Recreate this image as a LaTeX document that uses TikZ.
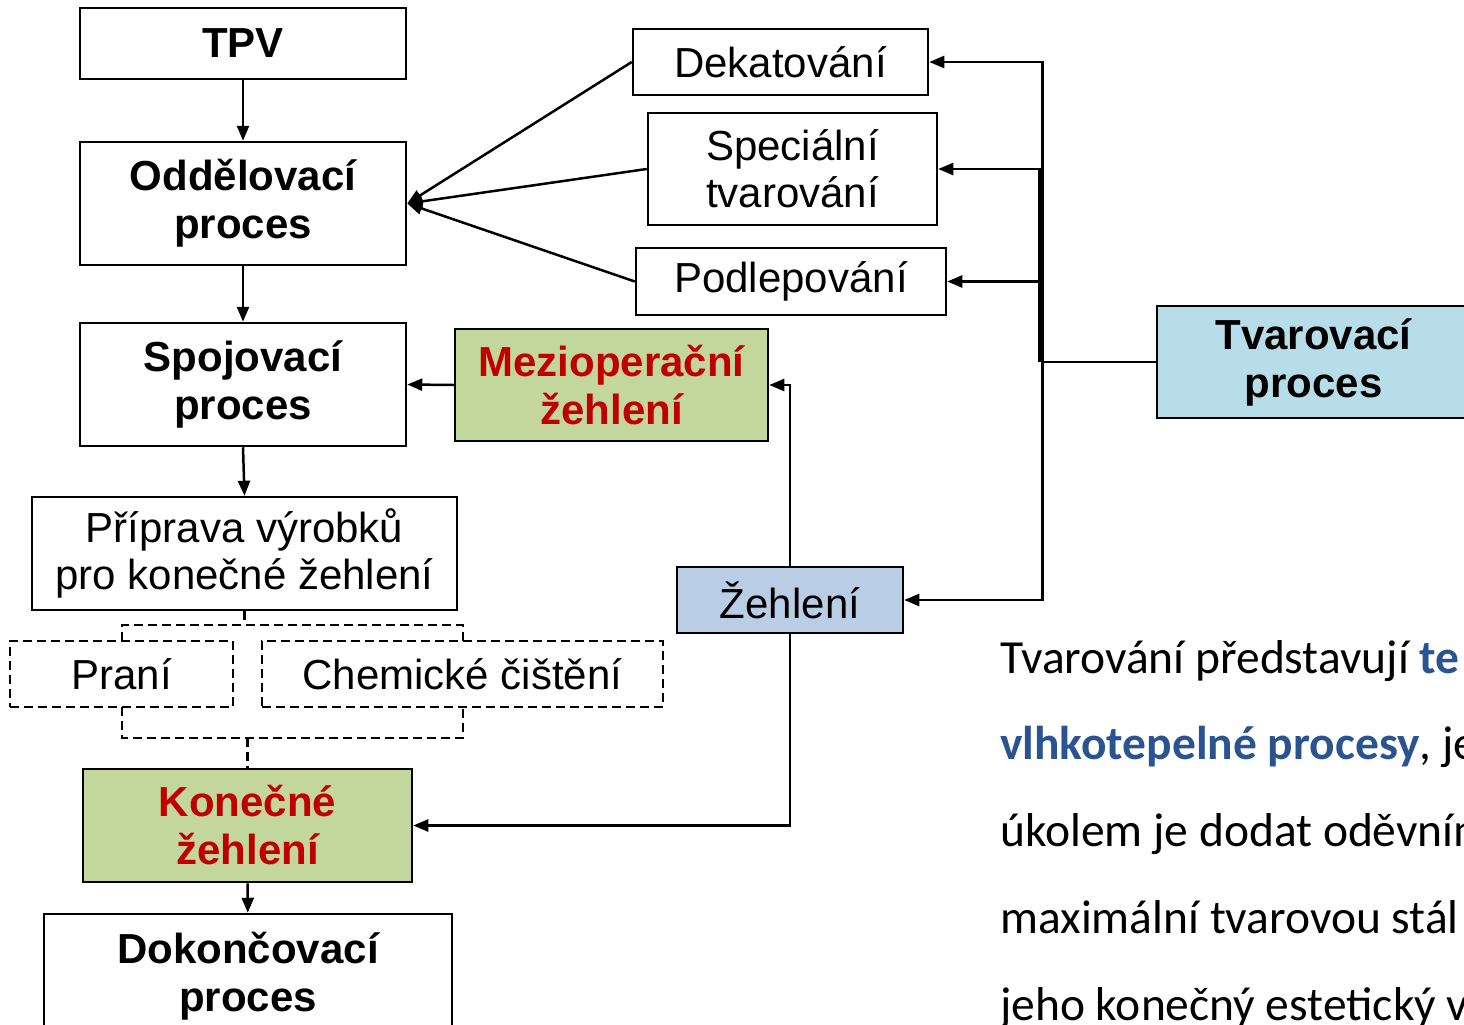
\documentclass[tikz,border=0pt]{standalone}
\usepackage{fontspec}
\setmainfont{Liberation Sans}
\newfontfamily\calibrifont{Carlito}
\usetikzlibrary{arrows.meta}
\definecolor{kgreen}{HTML}{C3D69B}
\definecolor{kred}{HTML}{C00000}
\definecolor{zblue}{HTML}{B9CDE5}
\definecolor{tblue}{HTML}{B7DEE8}
\definecolor{txtblue}{HTML}{2A5490}
\tikzset{
  box/.style={draw, line width=2.5pt, align=center, inner sep=0pt,
    font=\fontsize{42}{47}\selectfont},
  bbox/.style={box, font=\fontsize{42}{48}\selectfont\bfseries},
  dbox/.style={box, dash pattern=on 9pt off 5pt, line width=2.3pt},
  dsh/.style={line width=2.3pt, dash pattern=on 9pt off 5pt},
  arr/.style={line width=2.5pt, -{Triangle[length=15pt,width=12pt]}},
  ln/.style={line width=2.5pt},
  para/.style={anchor=base west, inner sep=0pt, font=\calibrifont\fontsize{47.5}{50}\selectfont}
}
\begin{document}
\begin{tikzpicture}[x=1pt,y=-1pt]
\useasboundingbox (0,0) rectangle (1464,1025);
\clip (0,0) rectangle (1464,1025);

% left column
\node[bbox, minimum width=326pt, minimum height=71pt] (tpv) at (243,43.5) {TPV};
\node[bbox, minimum width=326pt, minimum height=123pt] (odd) at (243,203.5) {Oddělovací\\proces};
\node[bbox, minimum width=326pt, minimum height=123pt] (spoj) at (243,384.5) {Spojovací\\proces};
\node[box, minimum width=425pt, minimum height=113pt] (prip) at (244.5,553.5) {Příprava výrobků\\pro konečné žehlení};
\node[dbox, minimum width=223pt, minimum height=66pt] (prani) at (121.5,674) {Praní};
\node[dbox, minimum width=401pt, minimum height=66pt] (chem) at (462.5,674) {Chemické čištění};
\node[bbox, fill=kgreen, text=kred, minimum width=329pt, minimum height=113pt] (kon) at (247.5,825.5) {Konečné\\žehlení};
\node[bbox, minimum width=408pt, minimum height=125pt] (dok) at (248,976.5) {Dokončovací\\proces};

% middle column
\node[box, minimum width=295pt, minimum height=66pt] (dek) at (780.5,62) {Dekatování};
\node[box, minimum width=289pt, minimum height=112pt] (spec) at (792.5,169) {Speciální\\tvarování};
\node[box, minimum width=310pt, minimum height=67pt] (podl) at (791,281.5) {Podlepování};
\node[bbox, fill=kgreen, text=kred, minimum width=313pt, minimum height=112pt] (mezi) at (611.5,385) {Mezioperační\\žehlení};
\node[box, fill=zblue, minimum width=226pt, minimum height=66pt] (zeh) at (790,600) {Žehlení};

% right
\node[bbox, fill=tblue, minimum width=313pt, minimum height=112pt] (tvar) at (1313.5,362) {Tvarovací\\proces};

% vertical flow
\draw[arr] (tpv) -- (odd);
\draw[arr] (odd) -- (spoj);
\draw[arr] (spoj.south) -- (prip.north);
\draw[arr] (kon) -- (dok);
\draw[arr] (mezi.west) -- (spoj.east);

% dashed brackets
\coordinate (t1) at (122,641);
\coordinate (t2) at (122,625);
\coordinate (t3) at (463,625);
\coordinate (t4) at (463,641);
\coordinate (tm) at (244.5,625);
\draw[dsh] (t1) -- (t2) -- (t3) -- (t4);
\draw[dsh] (prip.south) -- (tm);
\coordinate (u1) at (122,707);
\coordinate (u2) at (122,738);
\coordinate (u3) at (463,738);
\coordinate (u4) at (463,707);
\coordinate (um) at (247.5,738);
\draw[dsh] (u1) -- (u2) -- (u3) -- (u4);
\draw[dsh] (um) -- (kon.north);

% converging arrows to Oddelovaci
\draw[arr] (dek.west) -- (odd.east);
\draw[arr] (spec.west) -- (odd.east);
\draw[arr] (podl.west) -- (odd.east);

% Tvarovaci branches
\coordinate (j) at (1042.5,362);
\coordinate (j2) at (1039.5,362);
\draw[ln] (tvar.west) -- (j);
\draw[arr] (j) |- (dek.east);
\draw[arr] (j2) |- (spec.east);
\draw[arr] (j2) |- (podl.east);
\draw[arr] (j) |- (zeh.east);

% Zehleni
\draw[arr] (zeh.north) |- (mezi.east);
\draw[arr] (zeh.south) |- (kon.east);

% paragraph
\node[para] (p1) at (1000,673) {Tvarování představují \textcolor{txtblue}{\bfseries te}};
\node[para] (p2) at (1000,759.75) {\textcolor{txtblue}{\bfseries vlhkotepelné procesy}, je};
\node[para] (p3) at (1000,846.5) {úkolem je dodat oděvním};
\node[para] (p4) at (1000,933.25) {maximální tvarovou stál};
\node[para] (p5) at (1000,1020) {jeho konečný estetický v};
\end{tikzpicture}
\end{document}
